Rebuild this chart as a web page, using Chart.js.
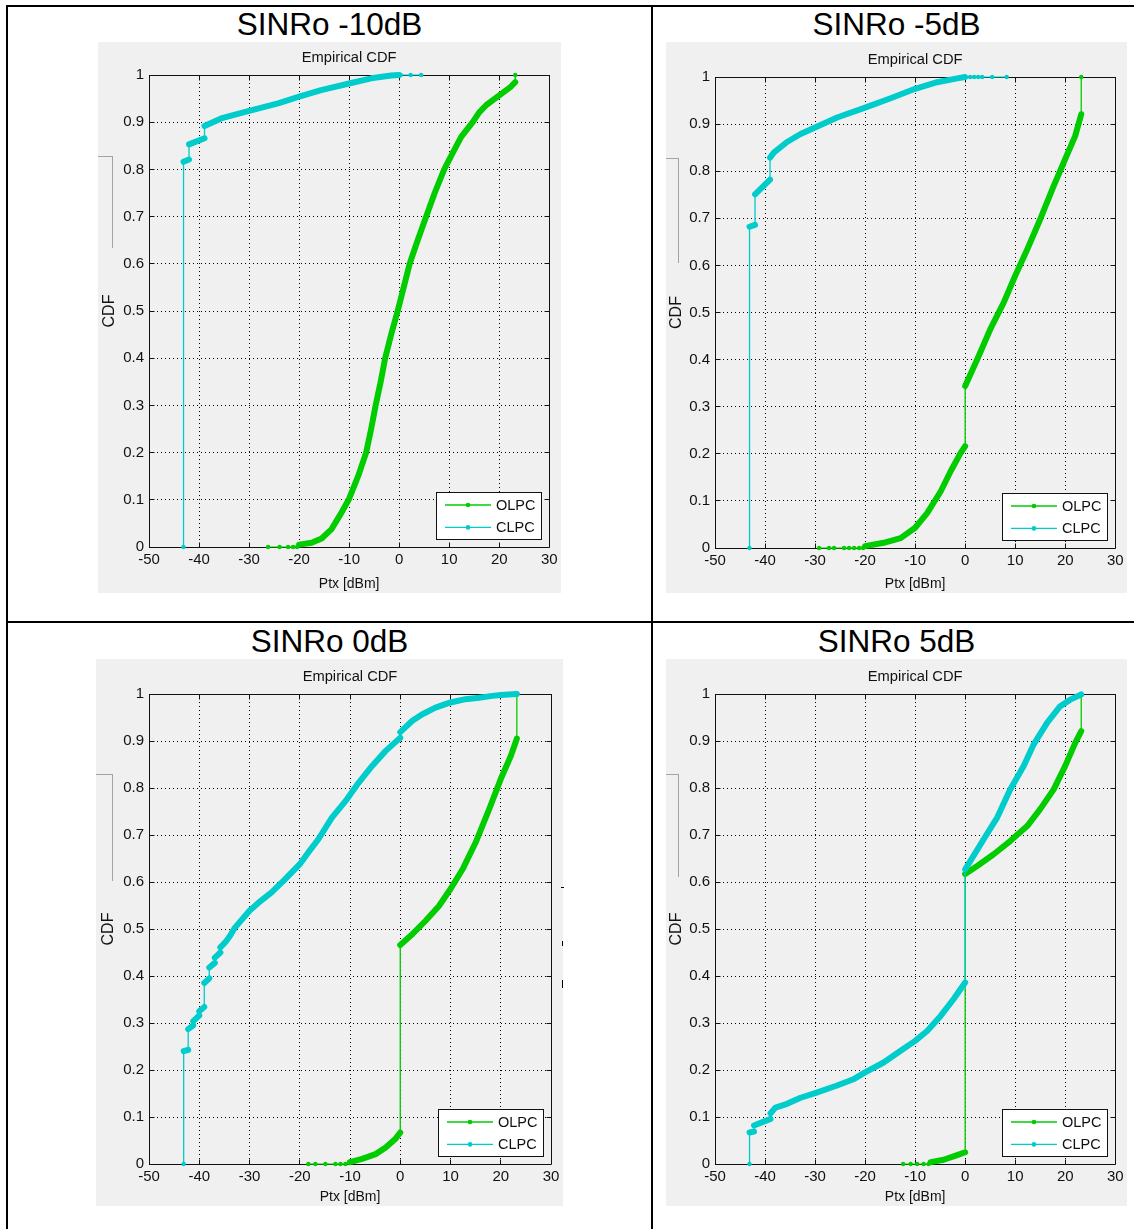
<!DOCTYPE html>
<html>
<head>
<meta charset="utf-8">
<title>Ptx CDF — OLPC vs CLPC</title>
<script src="https://cdn.jsdelivr.net/npm/chart.js@4.4.1/dist/chart.umd.min.js"></script>
<style>
  html, body { margin: 0; padding: 0; background: #fff; overflow: hidden; }
  #sheet { position: relative; width: 1134px; height: 1229px; overflow: hidden; background: #fff;
           font-family: 'Liberation Sans', Arial, Helvetica, sans-serif; }
  .rule { position: absolute; background: #000; }
  .cell-title { position: absolute; width: 400px; text-align: center; font-size: 31.5px; line-height: 31.5px;
                color: #000; white-space: nowrap; }
  .figure { position: absolute; background: #f0f0f0; }
  .figure canvas { position: absolute; left: 0; top: 0; }
  .stub { position: absolute; background: #a3a3a3; z-index: 2; }
  .speck { position: absolute; background: #000; z-index: 2; }
</style>
</head>
<body>
<div id="sheet">
  <div class="rule" style="left:6px;top:5px;width:1128px;height:2px"></div>
  <div class="rule" style="left:6px;top:5px;width:2px;height:1224px"></div>
  <div class="rule" style="left:651px;top:5px;width:2px;height:1224px"></div>
  <div class="rule" style="left:6px;top:621px;width:1128px;height:2px"></div>
</div>
<script>
// ---- axes ----
const ptxTicks = [-50, -40, -30, -20, -10, 0, 10, 20, 30];
const cdfTicks = [0, 0.1, 0.2, 0.3, 0.4, 0.5, 0.6, 0.7, 0.8, 0.9, 1];
const cdfTickLabels = ['0', '0.1', '0.2', '0.3', '0.4', '0.5', '0.6', '0.7', '0.8', '0.9', '1'];
const sinrTitles = ['SINRo -10dB', 'SINRo -5dB', 'SINRo 0dB', 'SINRo 5dB'];
const seriesNames = ['OLPC', 'CLPC'];

// ---- SINRo -10 dB ----
const olpcPtx_m10 = [-20.0, -17.5, -15.5, -13.5, -11.8, -10.1, -8.2, -6.6, -5.6, -4.7, -3.7, -2.8, -1.6, -0.3, 0.9, 2.1, 3.7, 5.4, 7.1, 9.0, 10.6, 12.4, 14.7, 16.0, 17.5, 20.0, 22.3, 23.2, 23.2];
const olpcCdf_m10 = [0.005, 0.009, 0.018, 0.038, 0.068, 0.100, 0.150, 0.200, 0.250, 0.300, 0.350, 0.400, 0.450, 0.500, 0.550, 0.600, 0.650, 0.700, 0.750, 0.800, 0.833, 0.869, 0.900, 0.921, 0.937, 0.957, 0.975, 0.985, 1.000];
const olpcLonePtx_m10 = [-26.2, -23.9, -22.2, -21.2, -20.4];
const olpcLoneCdf_m10 = [0, 0, 0, 0, 0];
const clpcPtx_m10 = [-43.1, -43.1, -42.0, -42.0, -38.9, -38.9, -35.6, -30.0, -24.2, -20.0, -15.6, -10.0, -5.6, -1.6, 0.0];
const clpcCdf_m10 = [0, 0.816, 0.821, 0.853, 0.866, 0.892, 0.908, 0.924, 0.940, 0.954, 0.968, 0.982, 0.993, 0.999, 1.0];
const clpcLonePtx_m10 = [0.3, 2.3, 4.4];
const clpcLoneCdf_m10 = [1, 1, 1];

// ---- SINRo -5 dB ----
const olpcPtx_m5 = [-20.0, -16.3, -12.9, -10.0, -7.6, -4.9, -2.9, -0.9, 0.0, 0.0, 2.4, 5.0, 7.7, 10.0, 12.4, 15.0, 17.7, 20.0, 22.0, 23.2, 23.2];
const olpcCdf_m5 = [0.004, 0.011, 0.021, 0.043, 0.074, 0.120, 0.163, 0.202, 0.216, 0.344, 0.400, 0.464, 0.521, 0.578, 0.634, 0.698, 0.769, 0.826, 0.875, 0.921, 1.0];
const olpcLonePtx_m5 = [-29.2, -27.2, -26.2, -24.2, -23.2, -22.2, -21.2, -20.4];
const olpcLoneCdf_m5 = [0, 0, 0, 0, 0, 0, 0, 0];
const clpcPtx_m5 = [-43.1, -43.1, -42.0, -42.0, -39.0, -39.0, -38.2, -35.6, -32.9, -30.0, -25.6, -20.0, -14.9, -10.0, -5.6, -1.6, 0.0];
const clpcCdf_m5 = [0, 0.682, 0.686, 0.751, 0.782, 0.829, 0.840, 0.862, 0.879, 0.893, 0.914, 0.935, 0.955, 0.975, 0.989, 0.997, 1.0];
const clpcLonePtx_m5 = [1.0, 1.8, 2.6, 3.4, 5.4, 8.3];
const clpcLoneCdf_m5 = [1, 1, 1, 1, 1, 1];

// ---- SINRo 0 dB ----
const olpcPtx_0 = [-10.0, -7.6, -4.9, -2.9, -1.0, 0.0, 0.0, 2.4, 5.0, 7.7, 10.0, 12.4, 15.0, 17.7, 20.0, 22.0, 23.2, 23.2];
const olpcCdf_0 = [0.004, 0.011, 0.021, 0.035, 0.053, 0.067, 0.466, 0.489, 0.517, 0.549, 0.585, 0.627, 0.684, 0.755, 0.819, 0.868, 0.905, 1.0];
const olpcLonePtx_0 = [-18.3, -16.9, -14.9, -12.9, -11.9, -10.9];
const olpcLoneCdf_0 = [0, 0, 0, 0, 0, 0];
const clpcPtx_0 = [-43.1, -43.1, -42.2, -42.2, -41.2, -41.2, -40.0, -40.0, -39.0, -39.0, -38.0, -38.0, -36.9, -36.9, -35.8, -35.8, -34.8, -33.9, -32.9, -30.0, -28.2, -25.6, -22.9, -20.0, -18.3, -16.3, -13.6, -10.9, -8.3, -5.6, -2.9, 0.0, 0.0, 2.4, 4.4, 7.0, 10.0, 13.0, 15.7, 18.3, 20.0, 23.2];
const clpcCdf_0 = [0, 0.240, 0.243, 0.287, 0.295, 0.304, 0.316, 0.325, 0.334, 0.385, 0.395, 0.418, 0.428, 0.439, 0.450, 0.461, 0.472, 0.485, 0.503, 0.539, 0.556, 0.578, 0.606, 0.638, 0.663, 0.691, 0.737, 0.772, 0.811, 0.847, 0.879, 0.907, 0.919, 0.943, 0.957, 0.971, 0.982, 0.989, 0.992, 0.996, 0.998, 1.0];
const clpcLonePtx_0 = [];
const clpcLoneCdf_0 = [];

// ---- SINRo 5 dB ----
const olpcPtx_p5 = [-6.9, -4.3, -1.6, 0.0, 0.0, 2.4, 5.7, 9.0, 12.4, 15.0, 17.7, 20.0, 22.0, 23.2, 23.2];
const olpcCdf_p5 = [0.004, 0.009, 0.019, 0.025, 0.617, 0.634, 0.659, 0.687, 0.719, 0.755, 0.797, 0.847, 0.896, 0.921, 1.0];
const olpcLonePtx_p5 = [-12.4, -10.9, -9.6, -8.3, -7.3];
const olpcLoneCdf_p5 = [0, 0, 0, 0, 0];
const clpcPtx_p5 = [-43.1, -43.1, -42.2, -42.2, -38.9, -38.9, -37.9, -35.6, -32.9, -30.0, -25.6, -22.2, -20.0, -16.3, -12.9, -10.0, -7.6, -4.9, -2.3, 0.0, 0.0, 1.7, 3.7, 6.4, 9.0, 11.7, 13.7, 16.4, 19.0, 21.0, 23.2];
const clpcCdf_p5 = [0, 0.067, 0.069, 0.082, 0.096, 0.108, 0.120, 0.128, 0.141, 0.151, 0.167, 0.181, 0.195, 0.216, 0.241, 0.262, 0.283, 0.315, 0.351, 0.386, 0.627, 0.656, 0.691, 0.737, 0.797, 0.847, 0.893, 0.939, 0.974, 0.988, 0.999];
const clpcLonePtx_p5 = [];
const clpcLoneCdf_p5 = [];

// ---- styling ----
const OLPC_COLOR = '#00cc00';
const CLPC_COLOR = '#00cccc';
const FAMILY = "'Liberation Sans', Arial, Helvetica, sans-serif";
const TICK_FONT = { family: FAMILY, size: 15 };
const TITLE_FONT = { family: FAMILY, size: 14.7, weight: 'normal' };
const XLABEL_FONT = { family: FAMILY, size: 14 };
const YLABEL_FONT = { family: FAMILY, size: 16 };
const LEGEND_FONT = '14.5px ' + FAMILY;
const BAND = 6;     // dense marker trace
const THIN = 1.3;   // plain connecting line

// one figure per table cell
const figures = [
  { title: sinrTitles[0], cx: 329.5, ty: 9.3,
    frame: { left: 98, top: 42, width: 463, height: 551 },
    yAxisW: 51, xAxisH: 46, padRight: 10, titleCenter: 16, titleBand: 33, ylabelCenter: 11.6,
    stubs: [[98, 156, 15, 1], [112, 156, 1, 92]], specks: [],
    olpc: [olpcPtx_m10, olpcCdf_m10, olpcLonePtx_m10, olpcLoneCdf_m10],
    clpc: [clpcPtx_m10, clpcCdf_m10, clpcLonePtx_m10, clpcLoneCdf_m10] },
  { title: sinrTitles[1], cx: 896.5, ty: 9.3,
    frame: { left: 666, top: 42, width: 461, height: 551 },
    yAxisW: 49, xAxisH: 45, padRight: 10, titleCenter: 17.5, titleBand: 35, ylabelCenter: 10.7,
    stubs: [[666, 158, 13, 1], [678, 158, 1, 105]], specks: [],
    olpc: [olpcPtx_m5, olpcCdf_m5, olpcLonePtx_m5, olpcLoneCdf_m5],
    clpc: [clpcPtx_m5, clpcCdf_m5, clpcLonePtx_m5, clpcLoneCdf_m5] },
  { title: sinrTitles[2], cx: 329.5, ty: 625.6,
    frame: { left: 96, top: 659, width: 467, height: 547 },
    yAxisW: 53, xAxisH: 42, padRight: 12, titleCenter: 17.5, titleBand: 35, ylabelCenter: 13,
    stubs: [[96, 774, 17, 1], [112, 774, 1, 107]],
    specks: [[561, 887, 3, 1], [562, 941, 1, 5], [562, 980, 1, 8]],
    olpc: [olpcPtx_0, olpcCdf_0, olpcLonePtx_0, olpcLoneCdf_0],
    clpc: [clpcPtx_0, clpcCdf_0, clpcLonePtx_0, clpcLoneCdf_0] },
  { title: sinrTitles[3], cx: 896.5, ty: 625.6,
    frame: { left: 666, top: 659, width: 461, height: 547 },
    yAxisW: 49, xAxisH: 42, padRight: 10, titleCenter: 17.5, titleBand: 35, ylabelCenter: 10.5,
    stubs: [[666, 774, 13, 1], [678, 774, 1, 103]], specks: [],
    olpc: [olpcPtx_p5, olpcCdf_p5, olpcLonePtx_p5, olpcLoneCdf_p5],
    clpc: [clpcPtx_p5, clpcCdf_p5, clpcLonePtx_p5, clpcLoneCdf_p5] }
];

const toPoints = (xs, ys) => xs.map((x, i) => ({ x: x, y: ys[i] }));

function traceSets(name, color, arrays, drawOrder) {
  const [xs, ys, loneXs, loneYs] = arrays;
  const sets = [{
    label: name, inLegend: true,
    data: toPoints(xs, ys),
    showLine: true, tension: 0,
    borderColor: color, backgroundColor: color,
    borderWidth: BAND, borderCapStyle: 'round', borderJoinStyle: 'round',
    // vertical jumps of the empirical CDF are plain lines, the rest is dense markers
    segment: { borderWidth: c => (c.p0.parsed.x === c.p1.parsed.x ? THIN : BAND) },
    pointRadius: 2.2, pointBorderWidth: 0, pointBackgroundColor: color,
    clip: 4, order: drawOrder
  }];
  if (loneXs.length) {
    sets.push({
      label: name, inLegend: false,
      data: toPoints(loneXs, loneYs),
      showLine: true, tension: 0,
      borderColor: color, backgroundColor: color, borderWidth: 1,
      pointRadius: 2.2, pointBorderWidth: 0, pointBackgroundColor: color,
      clip: 4, order: drawOrder + 2
    });
  }
  return sets;
}

// MATLAB-style axes box, inward ticks and the legend in the lower right corner
const matlabAxes = {
  id: 'matlabAxes',
  beforeDatasetsDraw(chart) {
    const { ctx, chartArea: a, scales: { x, y } } = chart;
    const al = v => Math.round(v - 0.5) + 0.5;
    const L = al(a.left), R = al(a.right), T = al(a.top), B = al(a.bottom);
    const tick = 5;
    ctx.save();
    ctx.strokeStyle = '#111';
    ctx.lineWidth = 1;
    ctx.beginPath();
    ctx.rect(L, T, R - L, B - T);
    ptxTicks.slice(1, -1).forEach(v => {
      const px = al(x.getPixelForValue(v));
      ctx.moveTo(px, B); ctx.lineTo(px, B - tick);
      ctx.moveTo(px, T); ctx.lineTo(px, T + tick);
    });
    cdfTicks.slice(1, -1).forEach(v => {
      const py = al(y.getPixelForValue(v));
      ctx.moveTo(L, py); ctx.lineTo(L + tick, py);
      ctx.moveTo(R, py); ctx.lineTo(R - tick, py);
    });
    ctx.stroke();
    ctx.restore();
  },
  afterDatasetsDraw(chart) {
    const { ctx, chartArea: a } = chart;
    const w = 106, h = 48;
    const right = Math.round(a.right) - 7, bottom = Math.round(a.bottom) - 7;
    const left = right - w, top = bottom - h;
    ctx.save();
    ctx.fillStyle = '#fff';
    ctx.fillRect(left, top, w, h);
    ctx.strokeStyle = '#111';
    ctx.lineWidth = 1;
    ctx.strokeRect(left + 0.5, top + 0.5, w - 1, h - 1);
    const entries = seriesNames.map(n => chart.data.datasets.find(d => d.inLegend && d.label === n));
    entries.forEach((d, i) => {
      const ry = top + 13 + i * 22.4;
      ctx.strokeStyle = d.borderColor;
      ctx.lineWidth = THIN;
      ctx.beginPath();
      ctx.moveTo(left + 9, ry); ctx.lineTo(left + 55, ry);
      ctx.stroke();
      ctx.fillStyle = d.borderColor;
      ctx.beginPath();
      ctx.arc(left + 32, ry, 2.3, 0, Math.PI * 2);
      ctx.fill();
      ctx.fillStyle = '#111';
      ctx.font = LEGEND_FONT;
      ctx.textAlign = 'left';
      ctx.textBaseline = 'middle';
      ctx.fillText(d.label, left + 60, ry + 0.5);
    });
    ctx.restore();
  }
};

const sheet = document.getElementById('sheet');

function addRect(cls, r) {
  const s = document.createElement('div');
  s.className = cls;
  Object.assign(s.style, { left: r[0] + 'px', top: r[1] + 'px', width: r[2] + 'px', height: r[3] + 'px' });
  sheet.appendChild(s);
}

figures.forEach(fig => {
  const head = document.createElement('div');
  head.className = 'cell-title';
  head.style.left = (fig.cx - 200) + 'px';
  head.style.top = fig.ty + 'px';
  head.textContent = fig.title;
  sheet.appendChild(head);

  const box = document.createElement('div');
  box.className = 'figure';
  Object.assign(box.style, {
    left: fig.frame.left + 'px', top: fig.frame.top + 'px',
    width: fig.frame.width + 'px', height: fig.frame.height + 'px'
  });
  const canvas = document.createElement('canvas');
  canvas.width = fig.frame.width;
  canvas.height = fig.frame.height;
  box.appendChild(canvas);
  sheet.appendChild(box);

  fig.stubs.forEach(r => addRect('stub', r));
  fig.specks.forEach(r => addRect('speck', r));

  const titleLH = TITLE_FONT.size * 1.2;
  const tPadTop = fig.titleCenter - titleLH / 2;
  const tPadBottom = fig.titleBand - titleLH - tPadTop;
  const tickLH = TICK_FONT.size * 1.2;

  const datasets = traceSets(seriesNames[0], OLPC_COLOR, fig.olpc, 2)
    .concat(traceSets(seriesNames[1], CLPC_COLOR, fig.clpc, 1));

  new Chart(canvas, {
    type: 'scatter',
    data: { datasets },
    options: {
      responsive: false,
      devicePixelRatio: 1,
      animation: false,
      events: [],
      layout: { padding: { left: 0, top: 0, right: fig.padRight, bottom: 0 } },
      plugins: {
        legend: { display: false },
        tooltip: { enabled: false },
        title: {
          display: true, text: 'Empirical CDF', fullSize: false,
          color: '#111', font: TITLE_FONT,
          padding: { top: tPadTop, bottom: tPadBottom }
        }
      },
      scales: {
        x: {
          type: 'linear', min: ptxTicks[0], max: ptxTicks[ptxTicks.length - 1],
          afterBuildTicks: s => { s.ticks = ptxTicks.map(v => ({ value: v })); },
          afterFit: s => { s.height = fig.xAxisH; },
          ticks: { font: TICK_FONT, color: '#111', padding: 12.4 - tickLH / 2, maxRotation: 0, autoSkip: false,
                   callback: v => String(v) },
          grid: { color: '#000', lineWidth: 1, drawTicks: false },
          border: { display: false, dash: [1, 3] },
          title: { display: true, text: 'Ptx [dBm]', color: '#111', font: XLABEL_FONT, padding: { top: 0, bottom: 0 } }
        },
        y: {
          type: 'linear', min: cdfTicks[0], max: cdfTicks[cdfTicks.length - 1],
          afterBuildTicks: s => { s.ticks = cdfTicks.map(v => ({ value: v })); },
          afterFit: s => { s.width = fig.yAxisW; },
          ticks: { font: TICK_FONT, color: '#111', padding: 5, autoSkip: false,
                   callback: v => { const k = cdfTicks.indexOf(v); return k >= 0 ? cdfTickLabels[k] : String(v); } },
          grid: { color: '#000', lineWidth: 1, drawTicks: false },
          border: { display: false, dash: [1, 3] },
          title: { display: true, text: 'CDF', color: '#111', font: YLABEL_FONT,
                   padding: { top: fig.ylabelCenter - YLABEL_FONT.size * 0.6, bottom: 0 } }
        }
      }
    },
    plugins: [matlabAxes]
  });
});
</script>
</body>
</html>
